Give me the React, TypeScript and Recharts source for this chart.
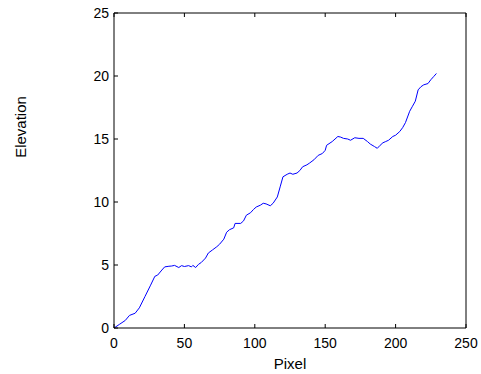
import React from 'react';
import { LineChart, Line, XAxis, YAxis, Label } from 'recharts';

const pixels = [0, 4, 8, 11, 15, 18, 22, 26, 29, 31, 34, 36, 39, 41, 43, 46, 48, 50, 53, 55, 56, 58, 60, 62, 65, 67, 70, 73, 75, 78, 80, 82, 85, 86, 90, 92, 94, 97, 99, 101, 104, 106, 108, 111, 113, 116, 118, 120, 123, 125, 127, 130, 132, 134, 137, 139, 142, 145, 148, 150, 151, 155, 159, 161, 163, 166, 168, 171, 174, 177, 180, 182, 185, 187, 189, 191, 193, 195, 198, 200, 203, 205, 207, 210, 212, 214, 216, 218, 220, 223, 225, 227, 229];
const elevations = [0, 0.3, 0.6, 1.0, 1.17, 1.6, 2.5, 3.4, 4.1, 4.2, 4.6, 4.85, 4.9, 4.92, 4.97, 4.8, 4.95, 4.88, 4.95, 4.85, 4.97, 4.8, 5.05, 5.2, 5.55, 5.95, 6.2, 6.45, 6.65, 7.05, 7.6, 7.8, 7.95, 8.3, 8.3, 8.5, 8.95, 9.15, 9.4, 9.6, 9.75, 9.9, 9.85, 9.7, 9.9, 10.4, 11.2, 12.0, 12.2, 12.3, 12.2, 12.3, 12.5, 12.8, 12.95, 13.1, 13.35, 13.7, 13.85, 14.1, 14.5, 14.8, 15.2, 15.15, 15.05, 15.0, 14.9, 15.1, 15.05, 15.05, 14.8, 14.6, 14.4, 14.26, 14.5, 14.7, 14.8, 14.9, 15.2, 15.3, 15.6, 15.9, 16.3, 17.2, 17.6, 18.0, 18.9, 19.15, 19.3, 19.4, 19.7, 19.95, 20.2];
const xTicks = [0, 50, 100, 150, 200, 250];
const yTicks = [0, 5, 10, 15, 20, 25];

const data = pixels.map((p, i) => ({ pixel: p, elevation: elevations[i] }));

const FONT = '"Liberation Sans", Arial, sans-serif';

const LeftTick = (props: any) => {
  const { x, y, payload } = props;
  return (
    <g>
      <line x1={x} x2={x + 4} y1={y} y2={y} stroke="#000" />
      <text x={x - 5} y={y} textAnchor="end" dominantBaseline="central" fontSize={14} fontFamily={FONT} fill="#000">
        {payload.value}
      </text>
    </g>
  );
};

const RightTick = (props: any) => {
  const { x, y } = props;
  return <line x1={x} x2={x - 4} y1={y} y2={y} stroke="#000" />;
};

const BottomTick = (props: any) => {
  const { x, y, payload } = props;
  return (
    <g>
      <line x1={x} x2={x} y1={y} y2={y - 4} stroke="#000" />
      <text x={x} y={y + 15} textAnchor="middle" dominantBaseline="central" fontSize={14} fontFamily={FONT} fill="#000">
        {payload.value}
      </text>
    </g>
  );
};

const TopTick = (props: any) => {
  const { x, y } = props;
  return <line x1={x} x2={x} y1={y} y2={y + 4} stroke="#000" />;
};

const YLabel = (props: any) => {
  const vb = props.viewBox || {};
  const cx = (vb.x || 0) + 20;
  const cy = (vb.y || 0) + 114;
  return (
    <text x={cx} y={cy} transform={`rotate(-90 ${cx} ${cy})`} textAnchor="middle" dominantBaseline="central" fontSize={15} fontFamily={FONT} fill="#000">
      Elevation
    </text>
  );
};

const XLabel = (props: any) => {
  const vb = props.viewBox || {};
  const cx = (vb.x || 0) + (vb.width || 0) / 2;
  const cy = (vb.y || 0) + 35;
  return (
    <text x={cx} y={cy} textAnchor="middle" dominantBaseline="central" fontSize={15} fontFamily={FONT} fill="#000">
      Pixel
    </text>
  );
};

export default function App() {
  return (
    <div style={{ position: 'absolute', left: 0, top: 0, width: 481, height: 374, background: '#fff' }}>
      <LineChart width={481} height={374} data={data} margin={{ top: 12, right: 14, left: 0, bottom: 0 }}>
        <XAxis
          xAxisId="b"
          dataKey="pixel"
          type="number"
          domain={[0, 250]}
          ticks={xTicks}
          orientation="bottom"
          height={46}
          tickSize={0}
          tickMargin={0}
          tickLine={false}
          tick={<BottomTick />}
          axisLine={{ stroke: '#000' }}
          interval={0}
        >
          <Label content={<XLabel />} />
        </XAxis>
        <XAxis
          xAxisId="t"
          dataKey="pixel"
          type="number"
          domain={[0, 250]}
          ticks={xTicks}
          orientation="top"
          height={1}
          tickSize={0}
          tickMargin={0}
          tickLine={false}
          tick={<TopTick />}
          axisLine={{ stroke: '#000' }}
          interval={0}
        />
        <YAxis
          yAxisId="l"
          type="number"
          domain={[0, 25]}
          ticks={yTicks}
          orientation="left"
          width={114}
          tickSize={0}
          tickMargin={0}
          tickLine={false}
          tick={<LeftTick />}
          axisLine={{ stroke: '#000' }}
          interval={0}
        >
          <Label content={<YLabel />} />
        </YAxis>
        <YAxis
          yAxisId="r"
          type="number"
          domain={[0, 25]}
          ticks={yTicks}
          orientation="right"
          width={1}
          tickSize={0}
          tickMargin={0}
          tickLine={false}
          tick={<RightTick />}
          axisLine={{ stroke: '#000' }}
          interval={0}
        />
        <Line
          xAxisId="b"
          yAxisId="l"
          type="linear"
          dataKey="elevation"
          stroke="#0000ff"
          strokeWidth={1}
          dot={false}
          isAnimationActive={false}
        />
      </LineChart>
    </div>
  );
}
